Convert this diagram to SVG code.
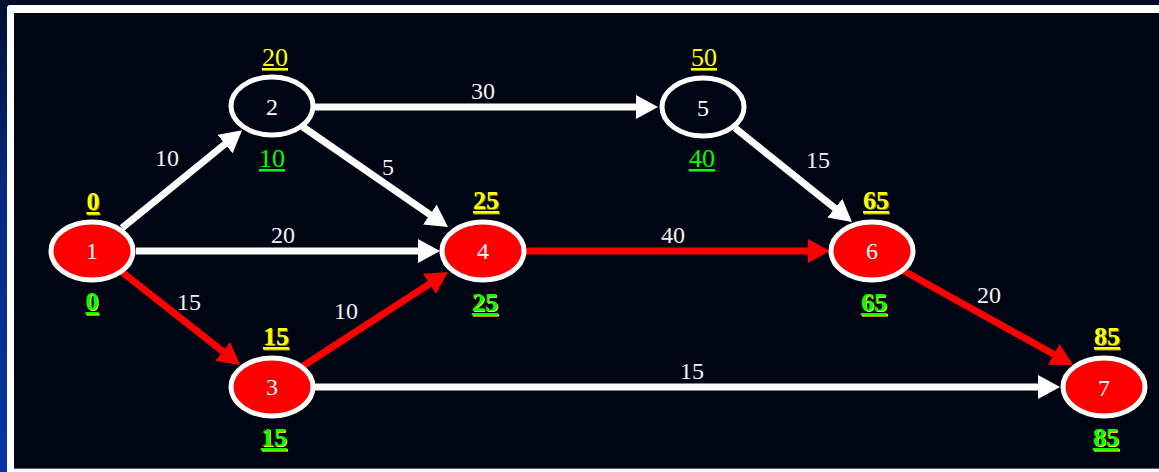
<svg xmlns="http://www.w3.org/2000/svg" width="1159" height="472" viewBox="0 0 1159 472">
<defs>
<linearGradient id="leftStrip" x1="0" y1="0" x2="0" y2="1">
<stop offset="0" stop-color="#00102e"/>
<stop offset="0.4" stop-color="#062a80"/>
<stop offset="1" stop-color="#0a34a6"/>
</linearGradient>
<marker id="arrW" markerUnits="userSpaceOnUse" viewBox="0 -12 22 24" markerWidth="22" markerHeight="24" refX="1" refY="0" orient="auto">
<path d="M0,-12 L22,0 L0,12 z" fill="#ffffff"/>
</marker>
<marker id="arrR" markerUnits="userSpaceOnUse" viewBox="0 -12 22 24" markerWidth="22" markerHeight="24" refX="1" refY="0" orient="auto">
<path d="M0,-12 L22,0 L0,12 z" fill="#ff0000"/>
</marker>
</defs>
<style>
text{font-family:"Liberation Serif","Times New Roman",serif;font-size:24px;text-anchor:middle}
.lbl{fill:#f2f2f2}
.nid{fill:#ffffff}
.es,.ls,.esb,.esh,.lsb,.lsy{font-size:26px;text-decoration:underline}
.es{fill:#ffff00}
.ls{fill:#00ff00}
.esb{fill:#ffff00;font-weight:bold}
.esh{fill:#8a8a00;font-weight:bold}
.lsb{fill:#00ff00;font-weight:bold}
.lsy{fill:#ffff00;font-weight:bold}
.w{stroke:#ffffff;stroke-width:7;fill:none;marker-end:url(#arrW)}
.r{stroke:#ff0000;stroke-width:7;fill:none;marker-end:url(#arrR)}
.n{stroke:#ffffff;stroke-width:5}
.nw{fill:#000514}
.nr{fill:#ff0000}
</style>
<rect x="0" y="0" width="1159" height="472" fill="#010c28"/>
<rect x="0" y="0" width="7" height="472" fill="url(#leftStrip)"/>
<rect x="7" y="5" width="1160" height="470" rx="3" fill="#ffffff"/>
<rect x="14" y="13" width="1150" height="456" fill="#5a5e6e"/>
<rect x="14" y="13" width="1150" height="455" fill="#000514"/>

<g id="connectors">
<line class="w" x1="122" y1="228" x2="225.8" y2="143.4"/>
<line class="w" x1="315" y1="107" x2="637" y2="107"/>
<line class="w" x1="303" y1="127" x2="430.7" y2="215.1"/>
<line class="w" x1="136" y1="251" x2="419" y2="251"/>
<line class="r" x1="122" y1="272" x2="223.5" y2="352"/>
<line class="r" x1="303" y1="366" x2="430.3" y2="283.4"/>
<line class="w" x1="315" y1="387" x2="1039" y2="387"/>
<line class="r" x1="526" y1="251" x2="809" y2="251"/>
<line class="w" x1="735" y1="128" x2="835.6" y2="208.8"/>
<line class="r" x1="904" y1="271" x2="1054.6" y2="354.8"/>
<text class="lbl" x="167" y="166">10</text>
<text class="lbl" x="483" y="99">30</text>
<text class="lbl" x="388" y="175">5</text>
<text class="lbl" x="283" y="243">20</text>
<text class="lbl" x="673" y="243">40</text>
<text class="lbl" x="818" y="168">15</text>
<text class="lbl" x="189" y="310">15</text>
<text class="lbl" x="346" y="319">10</text>
<text class="lbl" x="692" y="379">15</text>
<text class="lbl" x="989" y="303">20</text>
</g>

<g id="node1">
<ellipse class="n nr" cx="92" cy="251" rx="41" ry="29"/>
<text class="nid" x="92" y="259">1</text>
<text class="esh" x="94" y="211">0</text>
<text class="esb" x="93" y="210">0</text>
<text class="lsy" x="93" y="311">0</text>
<text class="lsb" x="92" y="310">0</text>
</g>
<g id="node2">
<ellipse class="n nw" cx="272" cy="106" rx="41" ry="29"/>
<text class="nid" x="272" y="115">2</text>
<text class="es" x="275" y="66">20</text>
<text class="ls" x="272" y="167">10</text>
</g>
<g id="node3">
<ellipse class="n nr" cx="272" cy="387" rx="41" ry="29"/>
<text class="nid" x="272" y="395">3</text>
<text class="esh" x="277" y="346">15</text>
<text class="esb" x="276" y="345">15</text>
<text class="lsy" x="275" y="447">15</text>
<text class="lsb" x="274" y="446">15</text>
</g>
<g id="node4">
<ellipse class="n nr" cx="483" cy="251" rx="41" ry="29"/>
<text class="nid" x="483" y="259">4</text>
<text class="esh" x="487" y="210">25</text>
<text class="esb" x="486" y="209">25</text>
<text class="lsy" x="486" y="312">25</text>
<text class="lsb" x="485" y="311">25</text>
</g>
<g id="node5">
<ellipse class="n nw" cx="703" cy="107" rx="41" ry="29"/>
<text class="nid" x="703" y="116">5</text>
<text class="es" x="704" y="66">50</text>
<text class="ls" x="702" y="167">40</text>
</g>
<g id="node6">
<ellipse class="n nr" cx="872" cy="251" rx="41" ry="29"/>
<text class="nid" x="872" y="259">6</text>
<text class="esh" x="877" y="210">65</text>
<text class="esb" x="876" y="209">65</text>
<text class="lsy" x="875" y="312">65</text>
<text class="lsb" x="874" y="311">65</text>
</g>
<g id="node7">
<ellipse class="n nr" cx="1104" cy="387" rx="41" ry="29"/>
<text class="nid" x="1104" y="396">7</text>
<text class="esh" x="1108" y="346">85</text>
<text class="esb" x="1107" y="345">85</text>
<text class="lsy" x="1107" y="447">85</text>
<text class="lsb" x="1106" y="446">85</text>
</g>
</svg>
